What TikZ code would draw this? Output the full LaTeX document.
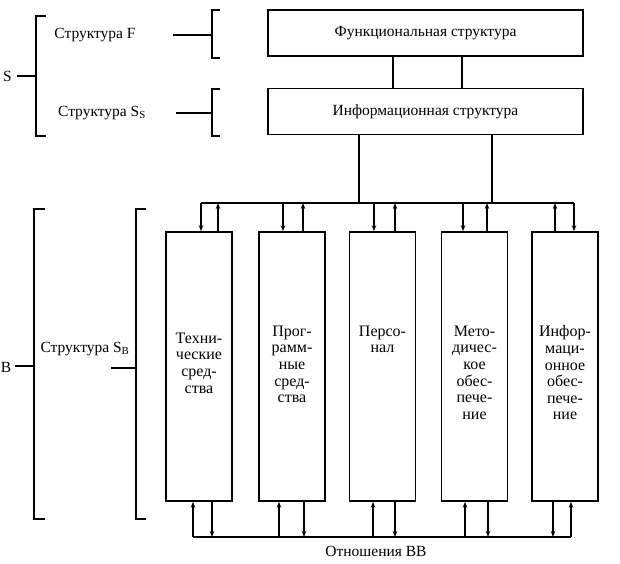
\documentclass[tikz,border=0pt]{standalone}
\usepackage{fontspec}
\setmainfont{Liberation Serif}
\usetikzlibrary{arrows.meta,positioning}

\begin{document}
\begin{tikzpicture}[
        x=1pt, y=-1pt,
        line width=1.6pt,
        every node/.style={font=\fontsize{15.5}{16.6}\selectfont},
        wide/.style={draw, rectangle, minimum width=315pt, minimum height=46pt, inner sep=0pt},
        column/.style={draw, rectangle, minimum width=66pt, minimum height=269pt, inner sep=0pt},
        coltext/.style={align=center, anchor=north, inner sep=0pt, font=\fontsize{16}{16.6}\selectfont},
        >={Stealth[length=6pt, width=4.5pt]}
    ]
    \useasboundingbox (0,0) rectangle (620,563);

    % Nodes
    \node[wide] (func) at (425.5,33) {Функциональная структура};
    \node[wide] (info) at (425.5,111.5) {Информационная структура};

    \node[column] (b1) at (199,366.5) {};
    \node[column] (b2) at (292,366.5) {};
    \node[column] (b3) at (382.5,366.5) {};
    \node[column] (b4) at (474.5,366.5) {};
    \node[column] (b5) at (565,366.5) {};

    \node[coltext] (t1) at (199,332) {Техни-\\ческие\\сред-\\ства};
    \node[coltext] (t2) at (292,325) {Прог-\\рамм-\\ные\\сред-\\ства};
    \node[coltext] (t3) at (382.5,325) {Персо-\\нал};
    \node[coltext] (t4) at (474.5,325) {Мето-\\дичес-\\кое\\обес-\\пече-\\ние};
    \node[coltext] (t5) at (565,325) {Инфор-\\маци-\\онное\\обес-\\пече-\\ние};

    \node (S) at (7.5,76) {S};
    \node (B) at (6,367) {B};
    \node (sf) at (95,35) {Структура F};
    \node (ss) at (102,113) {Структура S\textsubscript{S}};
    \node (sb) at (85,349) {Структура S\textsubscript{B}};
    \node (rel) at (376,551) {Отношения ВВ};

    % Brackets
    \draw (46,16) -- (36,16) -- (36,136) -- (46,136);
    \draw (17,76) -- (36,76);
    \draw (220,10) -- (212,10) -- (212,58) -- (220,58);
    \draw (173,35) -- (212,35);
    \draw (220,89) -- (212,89) -- (212,136) -- (220,136);
    \draw (176,113) -- (212,113);
    \draw (45,209) -- (34,209) -- (34,519) -- (45,519);
    \draw (15,366) -- (34,366);
    \draw (146,209) -- (136,209) -- (136,519) -- (146,519);
    \draw (111,368) -- (136,368);

    % Edges
    \coordinate (f1) at (393,0);
    \coordinate (f2) at (462,0);
    \draw (func.south -| f1) -- (info.north -| f1);
    \draw (func.south -| f2) -- (info.north -| f2);

    \coordinate (i1) at (359,203);
    \coordinate (i2) at (492,203);
    \draw (info.south -| i1) -- (i1);
    \draw (info.south -| i2) -- (i2);

    \foreach \n/\dn/\up in {1/201/218, 2/283/303, 3/374/395, 4/463/487, 5/574/555} {
        \coordinate (d\n) at (\dn,203);
        \coordinate (u\n) at (\up,203);
        \draw[->] (d\n) -- (d\n |- b\n.north);
        \draw[->] (u\n |- b\n.north) -- (u\n);
    }
    \draw (d1) -- (d5);

    \foreach \n/\up/\dn in {1/193/212, 2/279/304, 3/373/395, 4/465/488, 5/571/553} {
        \coordinate (p\n) at (\up,537);
        \coordinate (q\n) at (\dn,537);
        \draw[->] (p\n) -- (p\n |- b\n.south);
        \draw[->] (q\n |- b\n.south) -- (q\n);
    }
    \draw (p1) -- (p5);

\end{tikzpicture}
\end{document}
